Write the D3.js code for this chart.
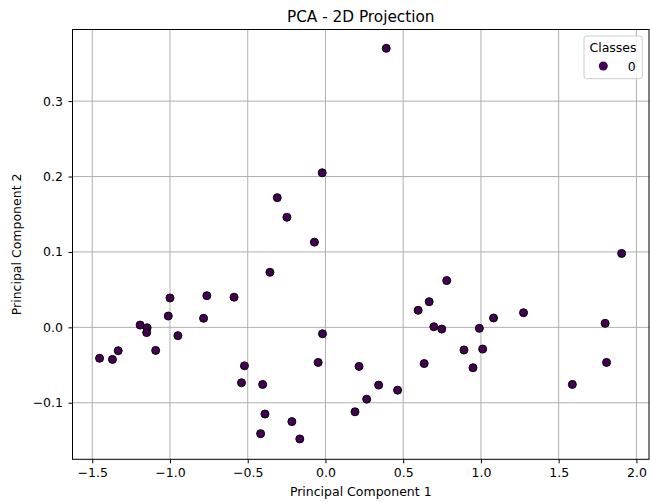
<!DOCTYPE html>
<html>
<head>
<meta charset="utf-8">
<script src="https://cdn.jsdelivr.net/npm/d3@7"></script>
<style>
  body { margin: 0; background: #fff; }
  text { font-family: "DejaVu Sans", sans-serif; fill: #000; }
</style>
</head>
<body>
<div id="chart"></div>
<script>
// values
var pc1 = [-0.021, -0.31, -0.248, -0.071, 0.391, 1.905,
    -0.357, -1.0, -0.763, -0.588, -1.011, -0.784, -1.192, -1.147, -1.15, -0.949,
    -0.019, -1.453, -1.37, -1.333, -1.092, -0.521, -0.047, -0.54, -0.404, -0.389,
    -0.417, -0.216, -0.165,
    0.78, 0.667, 0.596, 0.697, 0.748, 0.99, 1.081, 1.274, 1.799, 0.891, 1.011,
    0.635, 0.949, 1.808, 0.216, 0.342, 0.464, 0.265, 0.19, 1.588];
var pc2 = [0.205, 0.172, 0.146, 0.113, 0.370, 0.098,
    0.073, 0.039, 0.042, 0.040, 0.015, 0.012, 0.003, -0.0005, -0.007, -0.011,
    -0.0085, -0.041, -0.0425, -0.031, -0.0306, -0.051, -0.0465, -0.0735, -0.0757, -0.115,
    -0.141, -0.125, -0.148,
    0.062, 0.034, 0.0226, 0.0008, -0.0023, -0.0013, 0.0124, 0.0194, 0.0053, -0.030, -0.0288,
    -0.048, -0.0536, -0.0465, -0.0518, -0.0766, -0.0833, -0.0952, -0.112, -0.0757];
var classes = pc1.map(function() { return 0; });
var classNames = [0];
var xTicks = [-1.5, -1.0, -0.5, 0.0, 0.5, 1.0, 1.5, 2.0];
var yTicks = [-0.1, 0.0, 0.1, 0.2, 0.3];

var width = 650, height = 502;
var margin = { top: 29.5, right: 1, bottom: 42.7, left: 72.5 };
var fontSize = '12.5px';

var svg = d3.select('#chart')
    .append('svg')
    .attr('width', width)
    .attr('height', height);

var x = d3.scaleLinear()
    .domain([-1.627, 2.081])
    .range([margin.left, width - margin.right]);
var y = d3.scaleLinear()
    .domain([-0.175, 0.395])
    .range([height - margin.bottom, margin.top]);

var color = d3.scaleSequential(d3.interpolateViridis).domain([0, 1]);

// grid
svg.append('g')
    .selectAll('line')
    .data(xTicks)
    .enter()
    .append('line')
    .attr('x1', d => x(d)).attr('x2', d => x(d))
    .attr('y1', margin.top).attr('y2', height - margin.bottom)
    .style('stroke', '#b0b0b0')
    .style('stroke-width', 1);
svg.append('g')
    .selectAll('line')
    .data(yTicks)
    .enter()
    .append('line')
    .attr('x1', margin.left).attr('x2', width - margin.right)
    .attr('y1', d => y(d)).attr('y2', d => y(d))
    .style('stroke', '#b0b0b0')
    .style('stroke-width', 1);

// axes
var fmt = d3.format('.1f');
var xAxis = svg.append('g')
    .attr('transform', 'translate(0,' + (height - margin.bottom) + ')')
    .call(d3.axisBottom(x).tickValues(xTicks).tickFormat(d => fmt(d).replace('-', '\u2212')).tickSizeOuter(0).tickSize(4).tickPadding(4.5));
var yAxis = svg.append('g')
    .attr('transform', 'translate(' + margin.left + ',0)')
    .call(d3.axisLeft(y).tickValues(yTicks).tickFormat(d => fmt(d).replace('-', '\u2212')).tickSizeOuter(0).tickSize(4).tickPadding(5.5));
[xAxis, yAxis].forEach(function(a) {
    a.select('.domain').remove();
    a.selectAll('text').style('font-size', fontSize).style('font-family', '"DejaVu Sans", sans-serif').attr('fill', '#000');
    a.selectAll('line').style('stroke', '#000').style('stroke-width', 1);
});

// points
svg.append('g')
    .selectAll('circle')
    .data(pc1)
    .enter()
    .append('circle')
    .attr('cx', (d, i) => x(d))
    .attr('cy', (d, i) => y(pc2[i]))
    .attr('r', 4)
    .style('fill', (d, i) => color(classes[i]))
    .style('stroke', '#000')
    .style('stroke-width', 1);

// frame
svg.append('rect')
    .attr('x', margin.left)
    .attr('y', margin.top)
    .attr('width', width - margin.right - margin.left)
    .attr('height', height - margin.bottom - margin.top)
    .style('fill', 'none')
    .style('stroke', '#000')
    .style('stroke-width', 1);

// titles
svg.append('text')
    .text('PCA - 2D Projection')
    .attr('x', (margin.left + width - margin.right) / 2)
    .attr('y', 21.7)
    .style('font-size', '15.3px')
    .style('text-anchor', 'middle');
svg.append('text')
    .text('Principal Component 1')
    .attr('x', (margin.left + width - margin.right) / 2)
    .attr('y', 496)
    .style('font-size', fontSize)
    .style('text-anchor', 'middle');
svg.append('text')
    .text('Principal Component 2')
    .attr('transform', 'translate(21,' + ((margin.top + height - margin.bottom) / 2) + ') rotate(-90)')
    .style('font-size', fontSize)
    .style('text-anchor', 'middle');

// legend
var lg = svg.append('g').attr('transform', 'translate(584,36)');
lg.append('rect')
    .attr('width', 58.3)
    .attr('height', 42.7)
    .attr('rx', 2.5)
    .style('fill', 'rgba(255,255,255,0.8)')
    .style('stroke', '#cccccc')
    .style('stroke-width', 1);
lg.append('text')
    .text('Classes')
    .attr('x', 29)
    .attr('y', 16.3)
    .style('font-size', fontSize)
    .style('text-anchor', 'middle');
var items = lg.selectAll('g.item')
    .data(classNames)
    .enter()
    .append('g')
    .attr('class', 'item')
    .attr('transform', (d, i) => 'translate(0,' + (30 + i * 15) + ')');
items.append('circle')
    .attr('cx', 19.3)
    .attr('cy', 0)
    .attr('r', 4.5)
    .style('fill', d => color(d));
items.append('text')
    .text(d => d)
    .attr('x', 43.7)
    .attr('y', 4.7)
    .style('font-size', fontSize);
</script>
</body>
</html>
